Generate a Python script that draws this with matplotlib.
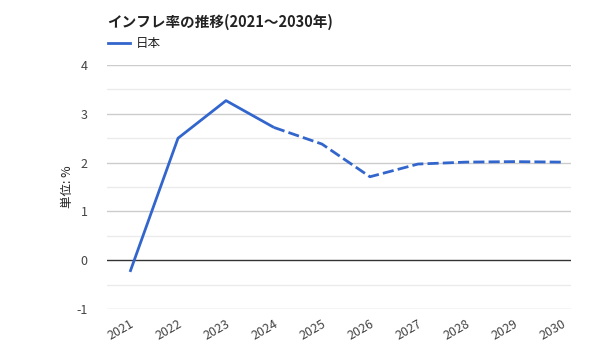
import matplotlib
matplotlib.use("Agg")
import matplotlib.pyplot as plt
from matplotlib.lines import Line2D

plt.rcParams['font.family'] = ['Noto Sans CJK JP', 'DejaVu Sans']

years = ['2021', '2022', '2023', '2024', '2025', '2026', '2027', '2028', '2029', '2030']
values = [-0.24, 2.50, 3.27, 2.72, 2.38, 1.71, 1.97, 2.01, 2.02, 2.01]
actual_last = 3  # index of 2024, last actual value
title = 'インフレ率の推移(2021～2030年)'
series_name = '日本'
ylabel = '単位: %'

color = '#3366CC'
fig = plt.figure(figsize=(6, 3.6), dpi=100)
ax = fig.add_axes([107/600, 1-309/360, (571-107)/600, (309-65)/360])

x = list(range(len(years)))
ax.plot(x[:actual_last+1], values[:actual_last+1], color=color, lw=2, solid_capstyle='butt')
ax.plot(x[actual_last:], values[actual_last:], color=color, lw=2, ls=(0, (4, 1.5)))

ax.set_xlim(-0.48, 9.19)
ax.set_ylim(-1, 4)
for v in [-1, 1, 2, 3, 4]:
    ax.axhline(v, color='#cccccc', lw=1, zorder=0)
for v in [-0.5, 0.5, 1.5, 2.5, 3.5]:
    ax.axhline(v, color='#ebebeb', lw=1, zorder=0)
ax.axhline(0, color='#333333', lw=1, zorder=1)

ax.set_yticks([-1, 0, 1, 2, 3, 4])
ax.set_yticklabels(['-1', '0', '1', '2', '3', '4'])
ax.set_xticks(x)
ax.set_xticklabels(years, rotation=30, ha='right', rotation_mode='anchor')
ax.tick_params(axis='both', length=0, labelsize=9, colors='#444444')
ax.tick_params(axis='y', pad=14)
ax.tick_params(axis='x', pad=6)
for s in ax.spines.values():
    s.set_visible(False)

fig.text(68/600, 1-187/360, ylabel, rotation=90, ha='center', va='center', fontsize=9, color='#222222')
fig.text(107/600, 1-22/360, title, ha='left', va='center', fontsize=10.5, fontweight='bold', color='#222222')
fig.add_artist(Line2D([108/600, 130/600], [1-43/360, 1-43/360], color=color, lw=2))
fig.text(136/600, 1-43/360, series_name, ha='left', va='center', fontsize=9, color='#222222')

fig.savefig('out.png', dpi=100)
